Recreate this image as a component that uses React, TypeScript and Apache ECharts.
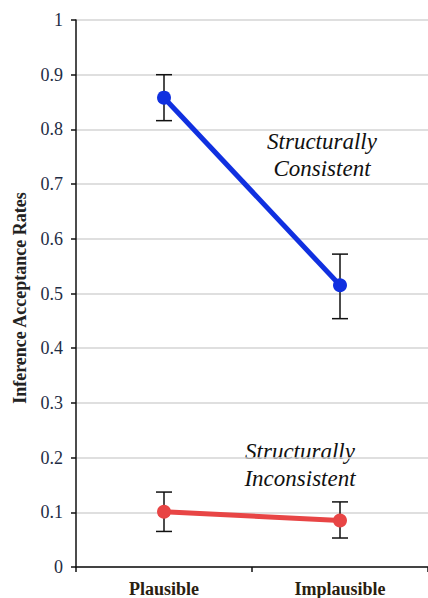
import React, { useEffect, useRef } from "react";
import * as echarts from "echarts";

const categories = ["Plausible", "Implausible"];
const consistentMeans = [0.858, 0.515];
const consistentLow = [0.816, 0.454];
const consistentHigh = [0.9, 0.572];
const inconsistentMeans = [0.101, 0.085];
const inconsistentLow = [0.065, 0.053];
const inconsistentHigh = [0.137, 0.119];
const yTicks = { min: 0, max: 1, interval: 0.1 };

const BLUE = "#1030e0";
const RED = "#e84545";
const SERIF = "Liberation Serif";

function errorSeries(low: number[], high: number[]) {
  return {
    type: "custom",
    z: 1,
    silent: true,
    encode: { x: 0, y: [1, 2] },
    data: low.map((l, i) => [i, l, high[i]]),
    renderItem: (_params: any, api: any) => {
      const x = api.value(0);
      const lo = api.coord([x, api.value(1)]);
      const hi = api.coord([x, api.value(2)]);
      const half = 8;
      const style = { stroke: "#111", lineWidth: 1.5 };
      return {
        type: "group",
        children: [
          { type: "line", shape: { x1: lo[0], y1: lo[1], x2: hi[0], y2: hi[1] }, style },
          { type: "line", shape: { x1: lo[0] - half, y1: lo[1], x2: lo[0] + half, y2: lo[1] }, style },
          { type: "line", shape: { x1: hi[0] - half, y1: hi[1], x2: hi[0] + half, y2: hi[1] }, style },
        ],
      };
    },
  };
}

export default function App() {
  const ref = useRef<HTMLDivElement>(null);
  useEffect(() => {
    if (!ref.current) return;
    const chart = echarts.init(ref.current, undefined, { renderer: "svg" });
    chart.setOption({
      animation: false,
      backgroundColor: "#ffffff",
      textStyle: { fontFamily: SERIF },
      grid: { left: 76, top: 20, bottom: 31, right: -12 },
      xAxis: {
        type: "category",
        data: categories,
        boundaryGap: true,
        axisLine: { lineStyle: { color: "#111", width: 1.5 } },
        axisTick: { show: true, length: 5, lineStyle: { color: "#111", width: 1.5 } },
        axisLabel: {
          margin: 13,
          fontFamily: SERIF,
          fontWeight: "bold",
          fontSize: 18,
          color: "#2a2010",
        },
        splitLine: { show: false },
      },
      yAxis: {
        type: "value",
        min: yTicks.min,
        max: yTicks.max,
        interval: yTicks.interval,
        axisLine: { show: true, lineStyle: { color: "#111", width: 1.5 } },
        axisTick: { show: true, length: 5, lineStyle: { color: "#111", width: 1.5 } },
        axisLabel: {
          margin: 13,
          fontFamily: SERIF,
          fontSize: 18,
          color: "#1e2c44",
        },
        splitLine: { show: true, lineStyle: { color: "#d4d4d4", width: 1.5 } },
      },
      graphic: [
        {
          type: "text",
          x: 20,
          y: 298,
          rotation: Math.PI / 2,
          style: {
            text: "Inference Acceptance Rates",
            fontFamily: SERIF,
            fontWeight: "bold",
            fontSize: 18,
            fill: "#222",
            align: "center",
            verticalAlign: "middle",
          },
        },
        {
          type: "text",
          x: 322,
          y: 155,
          style: {
            text: "Structurally\nConsistent",
            fontFamily: SERIF,
            fontStyle: "italic",
            fontSize: 23,
            fill: "#111",
            align: "center",
            verticalAlign: "middle",
            lineHeight: 27,
          },
        },
        {
          type: "text",
          x: 300,
          y: 465,
          style: {
            text: "Structurally\nInconsistent",
            fontFamily: SERIF,
            fontStyle: "italic",
            fontSize: 23,
            fill: "#111",
            align: "center",
            verticalAlign: "middle",
            lineHeight: 27,
          },
        },
      ],
      series: [
        errorSeries(consistentLow, consistentHigh),
        errorSeries(inconsistentLow, inconsistentHigh),
        {
          type: "line",
          z: 3,
          data: consistentMeans,
          symbol: "circle",
          symbolSize: 14,
          lineStyle: { color: BLUE, width: 5 },
          itemStyle: { color: BLUE },
        },
        {
          type: "line",
          z: 3,
          data: inconsistentMeans,
          symbol: "circle",
          symbolSize: 14,
          lineStyle: { color: RED, width: 5 },
          itemStyle: { color: RED },
        },
      ],
    });
    return () => chart.dispose();
  }, []);
  return (
    <div
      ref={ref}
      style={{ position: "absolute", left: 0, top: 0, width: 428, height: 598, background: "#fff" }}
    />
  );
}
